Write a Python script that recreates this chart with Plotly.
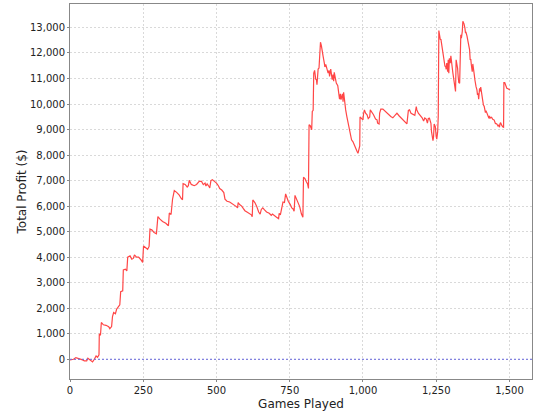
import plotly.graph_objects as go

games = [0, 12, 20, 32, 43, 49, 57, 61, 68, 77, 83, 89, 94, 99, 100, 104, 107, 114, 123, 132, 136, 142,
         145, 149, 155, 159, 166, 170, 173, 180, 182, 189, 194, 197, 205, 211, 216, 220, 227, 234, 242,
         248, 251, 257, 265, 270, 273, 279, 287, 295, 300, 307, 316, 327, 336, 339, 345, 350, 356, 364,
         373, 379, 384, 386, 393, 400, 404, 407, 414, 424, 432, 441,
         449, 455, 461, 464, 468, 475, 477, 481, 486, 493, 500, 507, 511, 518, 525, 529, 536, 545, 552,
         561, 568, 572, 574, 579, 586, 592, 597, 604, 613, 619, 622, 624, 631, 637, 644, 649, 653, 658,
         664, 671, 680, 687, 691, 698, 705, 712, 714, 718, 723, 727, 732, 736, 741, 745, 752, 757, 761,
         765, 768, 772, 779, 784, 790, 795, 797, 802, 806, 811, 814,
         816, 820, 825, 827, 830, 832, 835, 839, 841, 843, 847, 850, 852, 855, 858, 861, 864, 868, 870,
         873, 877, 881, 884, 886, 890, 893, 895, 898, 900, 902, 905, 909, 914, 916, 918, 920, 923, 925,
         930, 932, 934, 937, 941, 945, 950, 955, 958, 961, 966, 970, 975, 980, 983, 986, 989, 990, 995,
         1000, 1002, 1005, 1009, 1014, 1018, 1023, 1025, 1030, 1036, 1043, 1048, 1050, 1055, 1057, 1061,
         1068, 1075, 1082, 1089, 1095, 1102, 1109, 1116, 1123, 1130, 1136, 1143, 1150, 1155, 1159, 1164,
         1170, 1177, 1182, 1184, 1189, 1195, 1202, 1207, 1211, 1216, 1220, 1223,
         1227, 1232, 1234, 1239, 1241, 1243, 1247, 1250, 1252, 1255, 1257, 1259, 1261, 1264, 1266, 1268,
         1270, 1273, 1275, 1277, 1280, 1282, 1284, 1286, 1289, 1291, 1293, 1295, 1298, 1300, 1302, 1305,
         1307, 1309, 1311, 1314, 1316, 1318, 1320, 1323, 1325, 1327, 1330, 1332, 1334, 1336, 1339, 1341,
         1343, 1345, 1348, 1350, 1352, 1355, 1357, 1359, 1361, 1364, 1366, 1368, 1370, 1373, 1375, 1377,
         1380, 1382, 1384, 1386, 1389, 1391, 1393, 1395, 1398, 1400, 1402, 1405, 1407, 1409, 1411, 1414,
         1416, 1418, 1420, 1423, 1425, 1427, 1430, 1432, 1434, 1439, 1443, 1448, 1452, 1457, 1461, 1464,
         1466, 1468, 1470, 1473, 1475, 1477, 1480, 1481, 1484, 1486, 1489, 1491, 1495, 1500, 1502]

profit = [-30, 0, 65, 25, -25, -65, -65, 40, -25, -105, 0, 130, 80, 170, 1000, 940, 1440, 1350, 1330,
          1280, 1200, 1280, 1670, 1830, 1780, 1960, 2070, 2130, 2650, 2680, 3500, 3530, 3460, 4000, 4050,
          3920, 3950, 4090, 4000, 4000, 3900, 3790, 4440, 4370, 4310, 4420, 5100, 5070, 4970, 4920, 5590,
          5490, 5400, 5330, 5230, 5730, 5670, 6270, 6610, 6540, 6430, 6310, 6250, 6880, 6850, 6750, 6800,
          7010, 6850, 6800, 6850, 6970,
          6970, 6840, 6900, 6790, 6870, 6760, 6710, 7000, 7030, 6970, 6900, 6790, 6690, 6630, 6530, 6270,
          6190, 6160, 6110, 6030, 5980, 5930, 6140, 6060, 6000, 5900, 5820, 5770, 5720, 5660, 5580, 6240,
          6140, 6000, 5770, 5690, 5870, 5930, 5850, 5770, 5720, 5640, 5690, 5610, 5560, 5510, 5720, 5660,
          5930, 6160, 6140, 6480, 6320, 6190, 6060, 5930, 5900, 5800, 6420, 6320, 6140, 5980, 5690, 5560,
          7130, 7080, 6970, 6870, 6690,
          9190, 9150, 8990, 9710, 9750, 11210, 11320, 10950, 10980, 10760, 11370, 11410, 11760, 12420,
          12290, 12000, 11870, 11610, 11450, 11550, 11350, 11210, 11320, 11080, 11370, 11190, 10950,
          11150, 10890, 11240, 11080, 10820, 10720, 10460, 10360, 10190, 10400, 10170, 10400, 10090,
          10460, 10100, 9770, 9510, 9250, 8990, 8700, 8600, 8520, 8390, 8270, 8140, 8070, 8180, 8360,
          9490, 9450, 9380, 9620, 9770, 9640, 9580, 9430, 9490, 9770, 9690, 9580, 9410, 9380, 9250, 9220,
          9640, 9800, 9800, 9720, 9670, 9590, 9510, 9460, 9540, 9640, 9540, 9460, 9360, 9300, 9220, 9750,
          9770, 9640, 9590, 9560, 9900, 9770, 9640, 9560, 9460, 9330, 9450, 9410, 9250, 9430,
          9440, 9240, 8920, 8560, 8720, 9220, 9110, 8720, 8620, 8920, 9530, 12880, 12650, 12520, 12540,
          12380, 12190, 12060, 11860, 11700, 11470, 11490, 11360, 11600, 11270, 11730, 11210, 11790,
          11600, 11890, 11530, 11400, 11210, 11080, 10950, 10750, 10490, 11730, 11600, 11400, 11080,
          10840, 10810, 12650, 12710, 12580, 12840, 13240, 13200, 13140, 12970, 12780, 12800, 12670,
          12520, 12380, 12190, 12120, 11730, 11760, 11530, 11270, 11570, 11270, 11140, 10950, 10750,
          10680, 10550, 10360, 10420, 10190, 10620, 10490, 10660, 10360, 10290, 10160, 9970, 9900, 9700,
          9660, 9740, 9640, 9610, 9510, 9440, 9530, 9450, 9480, 9400, 9370, 9240, 9220, 9140, 9180, 9090,
          9240, 9270, 9180, 9110, 9110, 9090, 10840, 10840, 10750, 10680, 10620, 10600, 10550, 10550]

x_ticks = [0, 250, 500, 750, 1000, 1250, 1500]
y_ticks = [0, 1000, 2000, 3000, 4000, 5000, 6000, 7000, 8000, 9000, 10000, 11000, 12000, 13000]

fig = go.Figure()
fig.add_trace(go.Scatter(x=games, y=profit, mode="lines",
                         line=dict(color="#ff4646", width=1.2), showlegend=False,
                         hoverinfo="skip"))

fig.add_shape(type="line", xref="paper", x0=0, x1=1, yref="y", y0=0, y1=0,
              line=dict(color="#6a6ae0", width=1, dash="2px,2px"), layer="above")

font = "DejaVu Sans, Lucida Sans, sans-serif"
fig.update_layout(
    width=540, height=420,
    margin=dict(l=70, r=8, t=4, b=41),
    paper_bgcolor="white", plot_bgcolor="white",
    font=dict(family=font, size=10, color="#333333"),
    xaxis=dict(range=[0, 1577], tickvals=x_ticks, tickformat=",d", automargin=False,
               showgrid=True, gridcolor="#d9d9d9", griddash="2px,2px", gridwidth=1,
               zeroline=False, showline=True, linecolor="#888888", linewidth=1, mirror=True,
               ticks="outside", ticklen=2, tickcolor="#888888",
               title=dict(text="Games Played", font=dict(size=12, color="#222222"), standoff=4),
               tickfont=dict(size=10, color="#222222")),
    yaxis=dict(range=[-773, 13918], tickvals=y_ticks, tickformat=",d", automargin=False,
               showgrid=True, gridcolor="#d9d9d9", griddash="2px,2px", gridwidth=1,
               zeroline=False, showline=True, linecolor="#888888", linewidth=1, mirror=True,
               ticks="outside", ticklen=2, tickcolor="#888888",
               title=dict(text="Total Profit ($)", font=dict(size=12, color="#222222"), standoff=0),
               tickfont=dict(size=10, color="#222222")),
)

fig.write_html("out.html", config={"displayModeBar": False},
               post_script="document.body.style.margin='0';")
